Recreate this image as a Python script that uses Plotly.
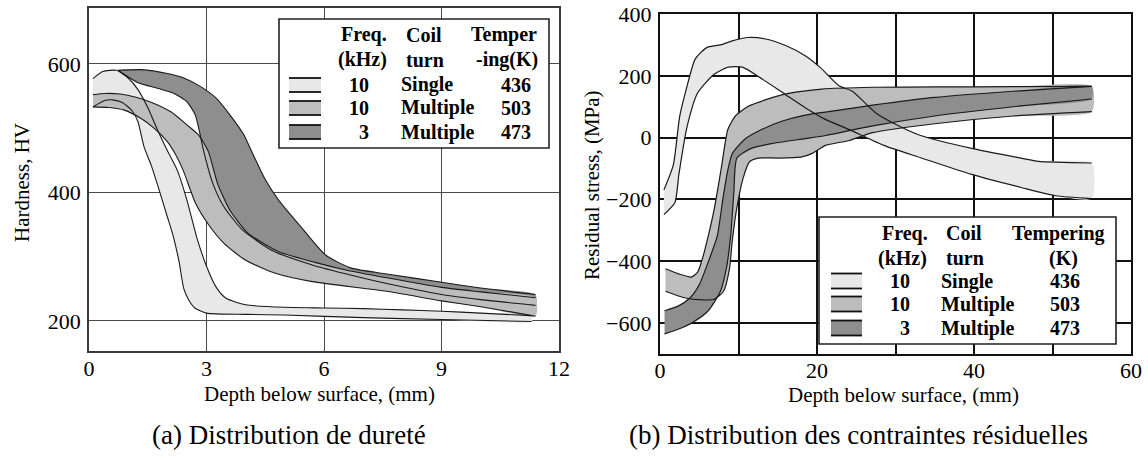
import plotly.graph_objects as go

W, H = 1148, 456

# ---------------- (a) Hardness data ----------------
a_light_up_x = [0.1, 0.35, 0.7, 1.0, 1.25, 1.5, 1.75, 2.0, 2.25, 2.5, 2.75, 3.0, 3.25, 3.5, 4.0, 5.0, 6.0, 7.0, 8.0, 9.0, 10.0, 11.3]
a_light_up_y = [577, 588, 590, 578, 560, 532, 497, 465, 435, 388, 330, 285, 252, 235, 225, 221, 220, 219, 217, 215, 212, 208]
a_light_lo_x = [0.1, 0.4, 0.6, 0.85, 1.1, 1.25, 1.4, 1.6, 1.8, 2.0, 2.15, 2.3, 2.42, 2.55, 2.7, 3.0, 4.0, 5.0, 7.0, 9.0, 11.3]
a_light_lo_y = [533, 543, 544, 540, 527, 510, 472, 440, 402, 362, 332, 292, 250, 232, 220, 212, 210, 209, 205, 202, 199]

a_med_up_x = [0.1, 0.4, 0.8, 1.2, 1.6, 2.1, 2.5, 2.8, 3.05, 3.28, 3.59, 4.05, 4.83, 5.77, 6.5, 7.6, 9.0, 10.0, 11.4]
a_med_up_y = [552, 554, 553, 548, 540, 525, 505, 489, 463, 414, 373, 337, 308, 291, 280, 267, 252, 245, 236]
a_med_lo_x = [0.1, 0.5, 0.9, 1.33, 1.66, 2.0, 2.2, 2.4, 2.72, 3.05, 3.44, 3.98, 4.76, 5.7, 7.6, 9.0, 10.0, 11.4]
a_med_lo_y = [533, 532, 528, 515, 500, 479, 460, 435, 383, 350, 321, 295, 274, 261, 246, 231, 222, 207]

a_dark_up_x = [0.74, 1.33, 2.0, 2.42, 2.84, 3.24, 3.63, 3.95, 4.18, 4.5, 4.85, 5.47, 6.05, 6.7, 7.6, 9.0, 10.0, 11.4]
a_dark_up_y = [590, 591, 585, 578, 565, 547, 518, 490, 460, 420, 387, 342, 302, 282, 273, 260, 251, 241]
a_dark_lo_x = [0.74, 1.24, 1.75, 2.17, 2.5, 2.71, 2.84, 2.92, 3.16, 3.44, 3.91, 4.69, 5.7, 6.5, 7.6, 9.0, 10.0, 11.4]
a_dark_lo_y = [590, 571, 562, 554, 541, 521, 489, 466, 414, 378, 342, 309, 287, 274, 258, 241, 233, 224]

# ---------------- (b) Residual stress data ----------------
b_light_up_x = [0.5, 1.7, 2.5, 3.3, 4.5, 6.0, 7.7, 9.2, 11.2, 13.3, 16.0, 18.5, 20.5, 22.8, 24.5, 27.5, 29.5, 33.2, 39.7, 46.1, 48.2, 55.0]
b_light_up_y = [-169, -88, 67, 152, 255, 292, 300, 313, 324, 320, 298, 265, 225, 168, 150, 80, 50, 7, -35, -67, -77, -82]
b_light_lo_x = [0.5, 1.9, 2.4, 3.4, 4.8, 6.9, 8.7, 10.5, 13.0, 16.0, 18.5, 21.0, 24.2, 28.5, 33.2, 39.7, 46.1, 50.4, 55.0]
b_light_lo_y = [-249, -210, -120, 30, 145, 205, 228, 228, 190, 139, 97, 60, 25, -25, -65, -119, -162, -188, -197]

b_med_up_x = [0.7, 2.3, 4.0, 4.8, 5.4, 6.15, 6.9, 7.8, 8.65, 9.6, 11.2, 13.4, 16.4, 20.6, 27.1, 35.0, 45.0, 55.0]
b_med_up_y = [-424, -440, -451, -435, -392, -318, -232, -100, 27, 70, 101, 122, 143, 157, 163, 164, 165, 166]
b_med_lo_x = [0.7, 3.1, 5.4, 6.9, 8.1, 8.85, 9.2, 9.8, 10.6, 11.4, 12.5, 15.0, 18.1, 19.4, 21.1, 24.0, 27.1, 35.0, 45.0, 55.0]
b_med_lo_y = [-497, -518, -525, -523, -497, -424, -335, -225, -130, -78, -66, -66, -62, -51, -25, -10, 16, 45, 70, 84]

b_dark_up_x = [0.58, 2.3, 3.84, 5.0, 6.15, 7.3, 8.0, 8.6, 9.2, 10.8, 13.0, 15.5, 18.5, 22.8, 27.1, 35.0, 45.0, 55.0]
b_dark_up_y = [-560, -545, -518, -476, -402, -318, -200, -110, -52, -5, 27, 53, 73, 89, 105, 130, 150, 166]
b_dark_lo_x = [0.58, 2.3, 4.2, 6.15, 7.7, 8.45, 9.0, 9.4, 9.8, 11.7, 14.3, 18.5, 21.1, 27.1, 35.0, 45.0, 55.0]
b_dark_lo_y = [-635, -620, -597, -560, -497, -424, -318, -180, -66, -34, -19, -3, 7, 38, 70, 100, 125]

# ---------------- legend / text ----------------
leg_freq = ["10", "10", "3"]
leg_coil = ["Single", "Multiple", "Multiple"]
leg_temp = ["436", "503", "473"]
band_colors = ["#e8e8e8", "#bdbdbd", "#8e8e8e"]

a_xticks = [0, 3, 6, 9, 12]
a_yticks = [200, 400, 600]
b_xticks = [0, 20, 40, 60]
b_yticks = [-600, -400, -200, 0, 200, 400]

SERIF = "Liberation Serif"
fig = go.Figure()


def add_band(xa, ya, xu, yu, xl, yl, color):
    fig.add_trace(go.Scatter(
        x=list(xu) + list(xl)[::-1], y=list(yu) + list(yl)[::-1],
        fill="toself", fillcolor=color, mode="lines",
        line=dict(width=0, shape="spline", smoothing=0.6),
        xaxis=xa, yaxis=ya, hoverinfo="skip", showlegend=False))


def add_edge(xa, ya, xs, ys, w=1.1):
    fig.add_trace(go.Scatter(
        x=xs, y=ys, mode="lines",
        line=dict(color="#1a1a1a", width=w, shape="spline", smoothing=0.6),
        xaxis=xa, yaxis=ya, hoverinfo="skip", showlegend=False))


# (a) fills: light, dark, medium
add_band("x", "y", a_light_up_x, a_light_up_y, a_light_lo_x, a_light_lo_y, band_colors[0])
add_band("x", "y", a_dark_up_x, a_dark_up_y, a_dark_lo_x, a_dark_lo_y, band_colors[2])
add_band("x", "y", a_med_up_x, a_med_up_y, a_med_lo_x, a_med_lo_y, band_colors[1])
for xs, ys in [(a_light_up_x, a_light_up_y), (a_light_lo_x, a_light_lo_y),
               (a_med_up_x, a_med_up_y), (a_med_lo_x, a_med_lo_y),
               (a_dark_up_x, a_dark_up_y), (a_dark_lo_x, a_dark_lo_y)]:
    add_edge("x", "y", xs, ys)

# (b) fills: light, medium, dark
add_band("x2", "y2", b_light_up_x, b_light_up_y, b_light_lo_x, b_light_lo_y, band_colors[0])
add_band("x2", "y2", b_med_up_x, b_med_up_y, b_med_lo_x, b_med_lo_y, band_colors[1])
add_band("x2", "y2", b_dark_up_x, b_dark_up_y, b_dark_lo_x, b_dark_lo_y, band_colors[2])
for xs, ys in [(b_light_up_x, b_light_up_y), (b_light_lo_x, b_light_lo_y),
               (b_med_up_x, b_med_up_y), (b_med_lo_x, b_med_lo_y),
               (b_dark_up_x, b_dark_up_y), (b_dark_lo_x, b_dark_lo_y)]:
    add_edge("x2", "y2", xs, ys, 1.2)


def px(x):
    return x / W


def py(y):
    return 1 - y / H


tickfont = dict(family=SERIF, size=22, color="black")
ax_common = dict(showgrid=True, zeroline=False, showline=True, mirror=True, automargin=False,
                 ticks="", ticklen=0, tickfont=tickfont)

fig.update_layout(
    template="none",
    width=W, height=H, margin=dict(l=0, r=0, t=0, b=0, pad=0, autoexpand=False),
    paper_bgcolor="white", plot_bgcolor="white", showlegend=False,
    xaxis=dict(domain=[px(89), px(559)], range=[0, 12], tickvals=a_xticks, ticklabelstandoff=-3,
               gridcolor="#4a4a4a", gridwidth=1.3, linecolor="#3a3a3a", linewidth=1.6, **ax_common),
    yaxis=dict(domain=[py(351), py(8)], range=[153, 687], tickvals=a_yticks, ticklabelstandoff=2,
               gridcolor="#4a4a4a", gridwidth=1.3, linecolor="#3a3a3a", linewidth=1.6, **ax_common),
    xaxis2=dict(domain=[px(660), px(1131)], range=[0, 60], tickvals=b_xticks, anchor="y2",
                ticklabelstandoff=-5,
                gridcolor="#111111", gridwidth=2, linecolor="#111111", linewidth=2.2,
                minor=dict(dtick=10, tick0=0, showgrid=True, gridcolor="#111111", gridwidth=2),
                **ax_common),
    yaxis2=dict(domain=[py(354), py(14)], range=[-700, 400], tickvals=b_yticks, anchor="x2",
                ticklabelstandoff=2,
                gridcolor="#111111", gridwidth=2, linecolor="#111111", linewidth=2.2, **ax_common),
)

annots = []
shapes = []


def txt(x, y, s, size=21, anchor="center", bold=False, angle=0, family=SERIF):
    annots.append(dict(x=px(x), y=py(y), xref="paper", yref="paper", text=s, showarrow=False,
                       xanchor=anchor, yanchor="middle", textangle=angle,
                       font=dict(family=family, size=size, color="black",
                                 weight="bold" if bold else "normal")))


# axis titles
txt(319, 394, "Depth below surface, (mm)", 21)
txt(903, 395, "Depth below surface, (mm)", 21)
txt(22, 183, "Hardness, HV", 21, angle=-90)
txt(592, 185, "Residual stress, (MPa)", 21, angle=-90)
# captions
txt(289, 435, "(a) Distribution de dureté", 27)
txt(858, 435, "(b) Distribution des contraintes résiduelles", 27)


def legend(box, heads, cols, rows_y, sw_x, sw_h):
    x0, y0, x1, y1 = box
    shapes.append(dict(type="rect", xref="paper", yref="paper", x0=px(x0), x1=px(x1),
                       y0=py(y1), y1=py(y0), fillcolor="white",
                       line=dict(color="#222", width=1.6), layer="above"))
    for (hx, hy, s) in heads:
        txt(hx, hy, s, 20, bold=True)
    fx, cx, tx = cols
    for i in range(3):
        yy = rows_y[i]
        txt(fx, yy, leg_freq[i], 20, anchor="right", bold=True)
        txt(cx, yy, leg_coil[i], 20, anchor="left", bold=True)
        txt(tx, yy, leg_temp[i], 20, anchor="center", bold=True)
        ya, yb = yy - sw_h / 2, yy + sw_h / 2
        shapes.append(dict(type="rect", xref="paper", yref="paper", x0=px(sw_x[0]), x1=px(sw_x[1]),
                           y0=py(yb), y1=py(ya), fillcolor=band_colors[i], line=dict(width=0),
                           layer="above"))
        for yl in (ya, yb):
            shapes.append(dict(type="line", xref="paper", yref="paper", x0=px(sw_x[0]), x1=px(sw_x[1]),
                               y0=py(yl), y1=py(yl), line=dict(color="#111", width=1.8), layer="above"))


legend((279, 19, 549, 148),
       [(364, 35, "Freq."), (362, 60, "(kHz)"), (424, 35, "Coil"), (425, 60, "turn"),
        (504, 35, "Temper"), (507, 60, "-ing(K)")],
       (371, 399, 516), [85, 108, 132], (289, 321), 14)
legend((819, 217, 1116, 344),
       [(905, 233, "Freq."), (902, 258, "(kHz)"), (964, 233, "Coil"), (965, 258, "turn"),
        (1058, 233, "Tempering"), (1063, 258, "(K)")],
       (912, 939, 1065), [281, 304, 328], (831, 862), 15)

fig.update_layout(annotations=annots, shapes=shapes)
fig.write_html("out.html", config={"displayModeBar": False},
               post_script="document.body.style.margin='0';document.body.style.overflow='hidden';")
